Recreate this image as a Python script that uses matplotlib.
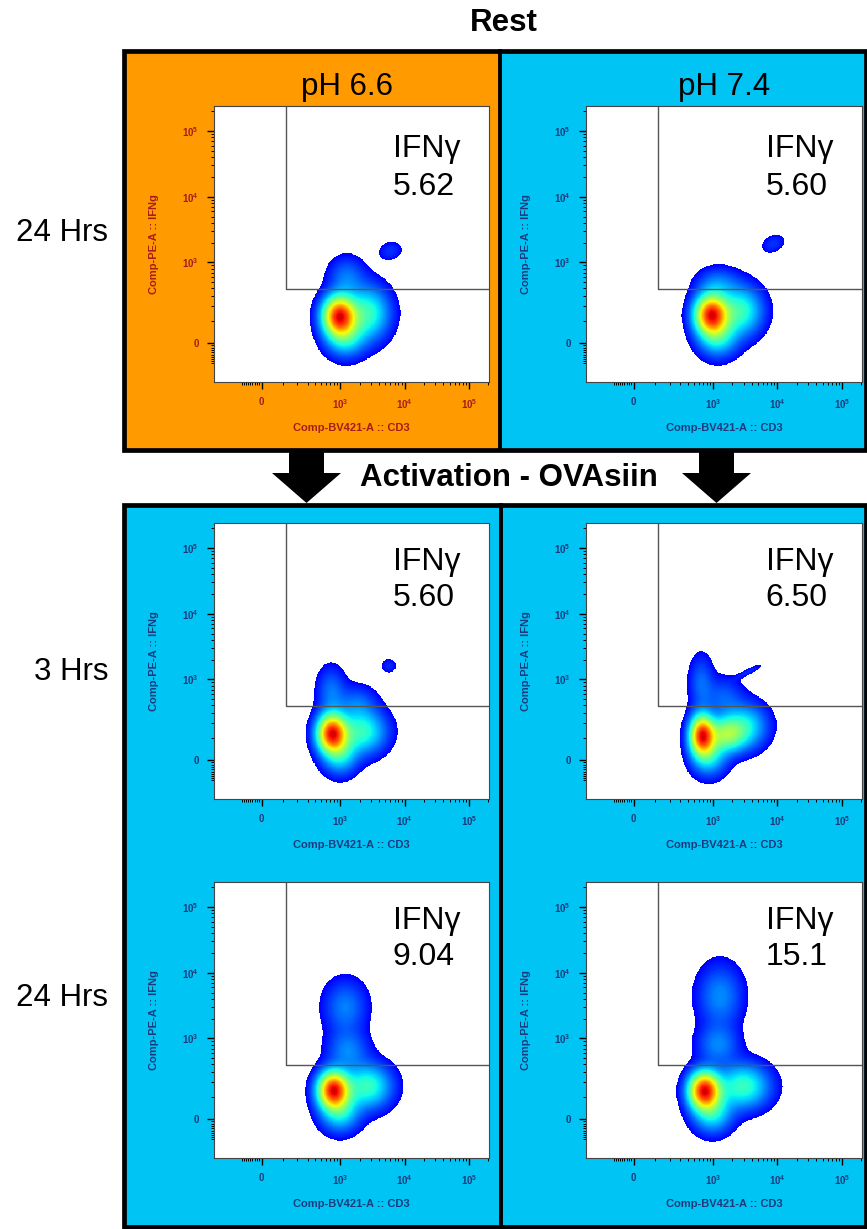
import numpy as np
import matplotlib
matplotlib.use("Agg")
import matplotlib.pyplot as plt
from matplotlib.patches import Rectangle, Polygon
from matplotlib.colors import ListedColormap

plt.rcParams['font.family'] = ['Liberation Sans', 'DejaVu Sans']
plt.rcParams['mathtext.fontset'] = 'custom'
plt.rcParams['mathtext.rm'] = 'Liberation Sans'
plt.rcParams['mathtext.bf'] = 'Liberation Sans:bold'

W, H = 867, 1229

# ---- data ----
title_top = "Rest"
title_mid = "Activation - OVAsiin"
col_labels = ["pH 6.6", "pH 7.4"]
row_labels = ["24 Hrs", "3 Hrs", "24 Hrs"]
gate_name = "IFNγ"
ifng_pct = [["5.62", "5.60"],
            ["5.60", "6.50"],
            ["9.04", "15.1"]]
x_label = "Comp-BV421-A :: CD3"
y_label = "Comp-PE-A :: IFNg"

gate_cd3 = 116      # lower-left corner of the IFNg+ gate
gate_ifng = 388

major_ticks = [0, 1e3, 1e4, 1e5]
major_tick_labels = ["0", r"$\mathbf{10^3}$", r"$\mathbf{10^4}$", r"$\mathbf{10^5}$"]
minor_ticks = ([-v for v in range(10, 100, 10)] + list(range(100, 1000, 100))
               + list(range(2000, 10000, 1000)) + list(range(20000, 100000, 10000))
               + [200000])
x_range = (-317, 204000)
y_range = (-219, 239000)
lin_width = 120     # asinh (biexponential-like) linear width

# populations: (CD3 centre, IFNg centre, spread CD3, spread IFNg [asinh units], weight, angle deg)
pops_ph66_rest24 = [(960, 132, 0.38, 0.45, 1.00, 0), (1200, 25, 0.45, 0.45, 0.25, 0),
                    (2700, 150, 0.50, 0.60, 0.32, 0), (1250, 600, 0.42, 0.45, 0.12, 0),
                    (6000, 1500, 0.29, 0.22, 0.06, 15)]
pops_ph74_rest24 = [(950, 141, 0.38, 0.45, 1.00, 0), (1200, 25, 0.45, 0.45, 0.25, 0),
                    (2700, 165, 0.50, 0.55, 0.32, 0), (1200, 480, 0.48, 0.35, 0.12, 0),
                    (8600, 1930, 0.29, 0.20, 0.06, 25)]
pops_ph66_act3 = [(740, 130, 0.34, 0.43, 1.00, 0), (990, 25, 0.40, 0.45, 0.25, 0),
                  (2190, 141, 0.55, 0.50, 0.32, 0), (720, 660, 0.33, 0.55, 0.12, 0),
                  (1800, 435, 0.45, 0.40, 0.10, 0), (5700, 1620, 0.20, 0.18, 0.05, 0)]
pops_ph74_act3 = [(680, 118, 0.28, 0.45, 1.00, 0), (1620, 124, 0.45, 0.40, 0.45, 0),
                  (880, 18, 0.40, 0.45, 0.25, 0), (3275, 180, 0.50, 0.50, 0.25, 0),
                  (660, 900, 0.28, 0.62, 0.11, 0), (1470, 535, 0.45, 0.45, 0.10, 0),
                  (3640, 1330, 0.38, 0.08, 0.05, 26)]
pops_ph66_act24 = [(780, 145, 0.36, 0.42, 1.00, 0), (990, 30, 0.45, 0.45, 0.25, 0),
                   (2675, 170, 0.55, 0.50, 0.32, 0), (1200, 3000, 0.50, 0.62, 0.13, 0),
                   (1300, 660, 0.48, 0.45, 0.13, 0)]
pops_ph74_act24 = [(740, 141, 0.36, 0.42, 1.00, 0), (990, 25, 0.45, 0.45, 0.25, 0),
                   (2960, 170, 0.60, 0.50, 0.32, 0), (1300, 4400, 0.52, 0.72, 0.14, 0),
                   (1200, 800, 0.48, 0.45, 0.13, 0)]
panel_pops = [[pops_ph66_rest24, pops_ph74_rest24],
              [pops_ph66_act3, pops_ph74_act3],
              [pops_ph66_act24, pops_ph74_act24]]

# ---- styles ----
orange = "#ff9a00"
cyan = "#00c4f4"
red_txt = "#a51c1c"
blue_txt = "#1d3a7c"
big = 22.5

fig = plt.figure(figsize=(W / 100, H / 100), dpi=100)
bg = fig.add_axes([0, 0, 1, 1], zorder=0)
bg.set_xlim(0, W)
bg.set_ylim(H, 0)
bg.axis("off")

# frames
bg.add_patch(Rectangle((124, 51), 376, 399, fc=orange, ec="none"))
bg.add_patch(Rectangle((500, 51), 366, 399, fc=cyan, ec="none"))
bg.add_patch(Rectangle((124, 51), 742, 399, fill=False, ec="black", lw=3.4))
bg.plot([500, 500], [51, 450], color="black", lw=2.8)
bg.add_patch(Rectangle((124, 505), 742, 722, fc=cyan, ec="black", lw=3.4))
bg.plot([501, 501], [505, 1227], color="black", lw=2.8)

# arrows
for cx in [306.5, 716.5]:
    bg.add_patch(Polygon([(cx - 17.5, 450), (cx + 17.5, 450), (cx + 17.5, 473), (cx + 34.5, 473),
                          (cx, 503), (cx - 34.5, 473), (cx - 17.5, 473)],
                         closed=True, fc="black", ec="none"))

bg.text(504, 23, title_top, ha="center", va="center", fontsize=big, fontweight="bold")
bg.text(509, 478, title_mid, ha="center", va="center", fontsize=big, fontweight="bold")
for cx, lab in zip([347, 724], col_labels):
    bg.text(cx, 87, lab, ha="center", va="center", fontsize=big)
for cy, lab in zip([233, 672, 998], row_labels):
    bg.text(108, cy, lab, ha="right", va="center", fontsize=big)

# density grid, even in asinh space
ux = np.linspace(np.arcsinh(x_range[0] / lin_width), np.arcsinh(x_range[1] / lin_width), 500)
uy = np.linspace(np.arcsinh(y_range[0] / lin_width), np.arcsinh(y_range[1] / lin_width), 500)
UX, UY = np.meshgrid(ux, uy)
X = lin_width * np.sinh(UX)
Y = lin_width * np.sinh(UY)
thresh = 0.02
jet = plt.get_cmap("jet")
flow_cmap = ListedColormap(jet(np.linspace(0.12, 0.93, 256)))

col_left = [214, 586]
col_w = [275, 276]
row_top = [106, 523, 882]
row_h = 276
text_base = [(51, 89), (47, 83), (47, 83)]

for r in range(3):
    for c in range(2):
        ax = fig.add_axes([col_left[c] / W, 1 - (row_top[r] + row_h) / H, col_w[c] / W, row_h / H], zorder=2)
        ax.set_xscale("asinh", linear_width=lin_width)
        ax.set_yscale("asinh", linear_width=lin_width)

        Z = np.zeros_like(UX)
        for cd3, ifng, sx, sy, w, ang in panel_pops[r][c]:
            dx = UX - np.arcsinh(cd3 / lin_width)
            dy = UY - np.arcsinh(ifng / lin_width)
            t = np.deg2rad(ang)
            a = dx * np.cos(t) + dy * np.sin(t)
            b = -dx * np.sin(t) + dy * np.cos(t)
            Z += w * np.exp(-0.5 * (a / sx) ** 2 - 0.5 * (b / sy) ** 2)
        Z /= Z.max()
        Cv = np.clip((Z - thresh) / (1 - thresh), 0, 1) ** 0.8
        Zm = np.ma.masked_where(Z < thresh, Cv)
        ax.pcolormesh(X, Y, Zm, cmap=flow_cmap, vmin=0, vmax=1, shading="nearest", rasterized=True)

        ax.plot([gate_cd3, gate_cd3, x_range[1] * 2], [y_range[1] * 2, gate_ifng, gate_ifng],
                color="#555555", lw=1.0)
        ax.set_xlim(*x_range)
        ax.set_ylim(*y_range)

        tc = red_txt if (r == 0 and c == 0) else blue_txt
        for axis in [ax.xaxis, ax.yaxis]:
            axis.set_ticks(major_ticks)
            axis.set_ticklabels(major_tick_labels)
            axis.set_ticks(minor_ticks, minor=True)
        ax.tick_params(which="major", direction="out", length=5, width=1.0, pad=6,
                       labelsize=7, labelcolor=tc)
        ax.tick_params(which="minor", direction="out", length=2.5, width=0.7)
        for lab in ax.get_xticklabels() + ax.get_yticklabels():
            lab.set_fontweight("bold")
        for sp in ax.spines.values():
            sp.set_color("#444444")
            sp.set_linewidth(0.8)
        ax.set_xlabel(x_label, fontsize=8, fontweight="bold", color=tc)
        ax.set_ylabel(y_label, fontsize=8, fontweight="bold", color=tc)
        ax.xaxis.set_label_coords(0.5, -0.15)
        ax.yaxis.set_label_coords(-0.2, 0.5)

        x0 = (393 - 214) / 275
        b1, b2 = text_base[r]
        ax.text(x0, 1 - b1 / row_h, gate_name, transform=ax.transAxes, fontsize=big + 0.5, va="baseline")
        ax.text(x0, 1 - b2 / row_h, ifng_pct[r][c], transform=ax.transAxes, fontsize=big + 0.5, va="baseline")

fig.savefig("out.png", dpi=100)
